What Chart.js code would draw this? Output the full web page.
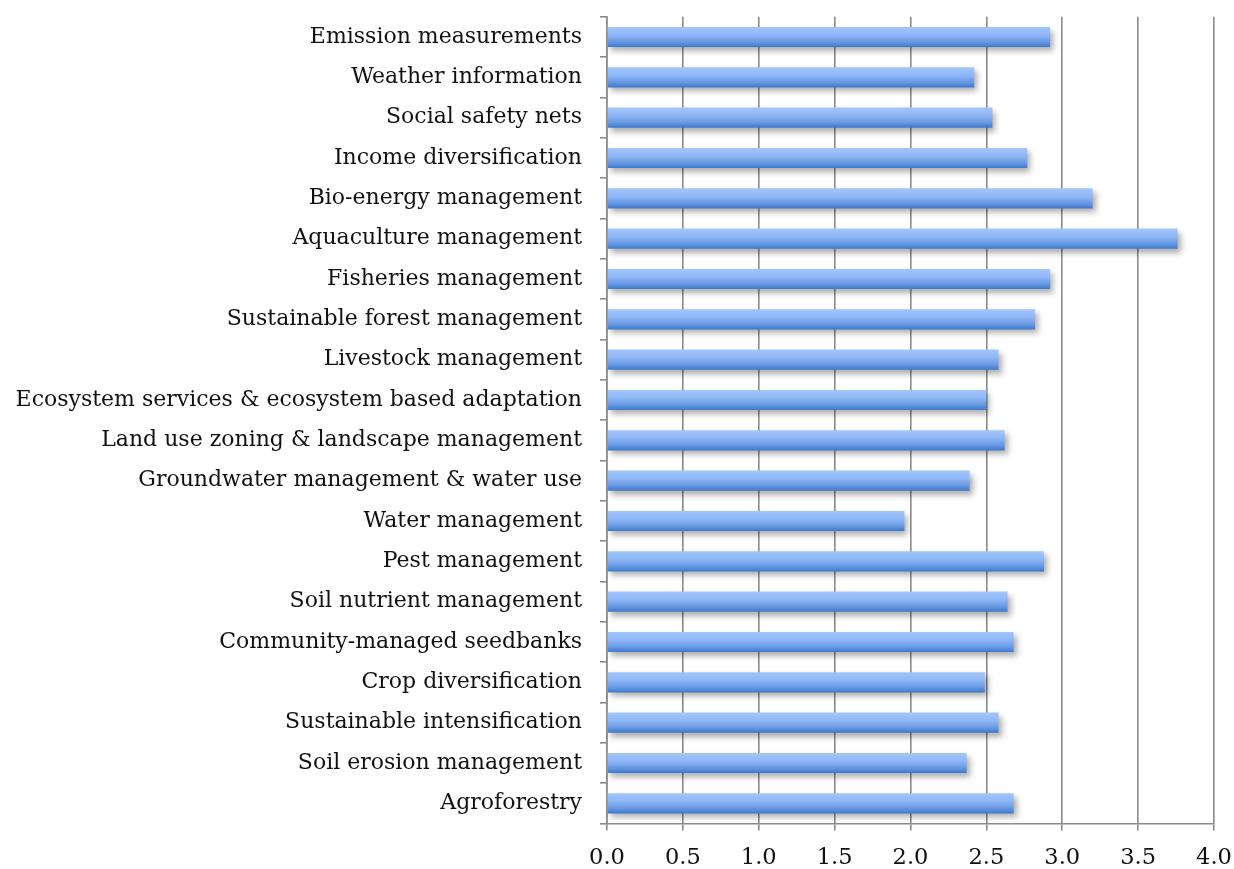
<!DOCTYPE html>
<html>
<head>
<meta charset="utf-8">
<script src="https://cdn.jsdelivr.net/npm/chart.js@4/dist/chart.umd.min.js"></script>
<style>
  html, body { margin: 0; padding: 0; background: #ffffff; }
  #wrap { width: 1234px; height: 869px; position: relative; }
</style>
</head>
<body>
<div id="wrap"><canvas id="c" width="1234" height="869"></canvas></div>
<script>
const categories = [
  "Emission measurements",
  "Weather information",
  "Social safety nets",
  "Income diversification",
  "Bio-energy management",
  "Aquaculture management",
  "Fisheries management",
  "Sustainable forest management",
  "Livestock management",
  "Ecosystem services & ecosystem based adaptation",
  "Land use zoning & landscape management",
  "Groundwater management & water use",
  "Water management",
  "Pest management",
  "Soil nutrient management",
  "Community-managed seedbanks",
  "Crop diversification",
  "Sustainable intensification",
  "Soil erosion management",
  "Agroforestry"
];
const scores = [2.92, 2.42, 2.54, 2.77, 3.20, 3.76, 2.92, 2.82, 2.58, 2.50, 2.62, 2.39, 1.96, 2.88, 2.64, 2.68, 2.49, 2.58, 2.37, 2.68];
const xTickValues = [0, 0.5, 1.0, 1.5, 2.0, 2.5, 3.0, 3.5, 4.0];

const AXIS_LEFT = 607;
const PLOT_BOTTOM = 823.5;
const PAD = { left: 0, top: 16.8, right: 20, bottom: 0 };

const shadowPlugin = {
  id: 'barShadow',
  beforeDatasetDraw(chart) {
    const ctx = chart.ctx;
    ctx.save();
    ctx.shadowColor = 'rgba(0,0,0,0.32)';
    ctx.shadowBlur = 6;
    ctx.shadowOffsetX = 3;
    ctx.shadowOffsetY = 4;
  },
  afterDatasetDraw(chart) {
    chart.ctx.restore();
  }
};

function barGradient(context) {
  const chart = context.chart;
  const yScale = chart.scales.y;
  if (!yScale || context.dataIndex === undefined) return '#6f9fe6';
  const center = yScale.getPixelForValue(context.dataIndex);
  if (!isFinite(center)) return '#6f9fe6';
  const half = 10;
  const g = chart.ctx.createLinearGradient(0, center - half, 0, center + half);
  g.addColorStop(0, '#a2c6fc');
  g.addColorStop(0.4, '#8fb7f6');
  g.addColorStop(0.75, '#6898e2');
  g.addColorStop(1, '#3c7acd');
  return g;
}

new Chart(document.getElementById('c'), {
  type: 'bar',
  data: {
    labels: categories,
    datasets: [{
      data: scores,
      backgroundColor: barGradient,
      borderWidth: 0,
      barPercentage: 0.5,
      categoryPercentage: 1.0
    }]
  },
  plugins: [shadowPlugin],
  options: {
    indexAxis: 'y',
    responsive: false,
    animation: false,
    layout: { padding: PAD },
    plugins: { legend: { display: false }, tooltip: { enabled: false } },
    scales: {
      x: {
        type: 'linear',
        min: 0,
        max: 4,
        afterBuildTicks(scale) { scale.ticks = xTickValues.map(v => ({ value: v })); },
        afterFit(scale) {
          scale.height = 869 - PLOT_BOTTOM - PAD.bottom;
          scale.paddingLeft = 0;
          scale.paddingRight = 0;
        },
        grid: {
          color: '#8a8a8a',
          lineWidth: 1.6,
          tickLength: 7,
          drawTicks: true
        },
        border: { display: true, color: '#8a8a8a', width: 1.6 },
        ticks: {
          color: '#111',
          font: { family: 'DejaVu Serif', size: 22.5 },
          padding: 14,
          maxRotation: 0,
          callback: (v) => Number(v).toFixed(1)
        }
      },
      y: {
        afterFit(scale) {
          scale.width = AXIS_LEFT - PAD.left;
          scale.paddingTop = 0;
          scale.paddingBottom = 0;
        },
        grid: {
          drawOnChartArea: false,
          drawTicks: true,
          tickLength: 7,
          color: '#8a8a8a',
          lineWidth: 1.6,
          offset: true
        },
        border: { display: true, color: '#8a8a8a', width: 1.6 },
        ticks: {
          color: '#111',
          font: { family: 'DejaVu Serif', size: 22 },
          padding: 18,
          autoSkip: false
        }
      }
    }
  }
});
</script>
</body>
</html>
